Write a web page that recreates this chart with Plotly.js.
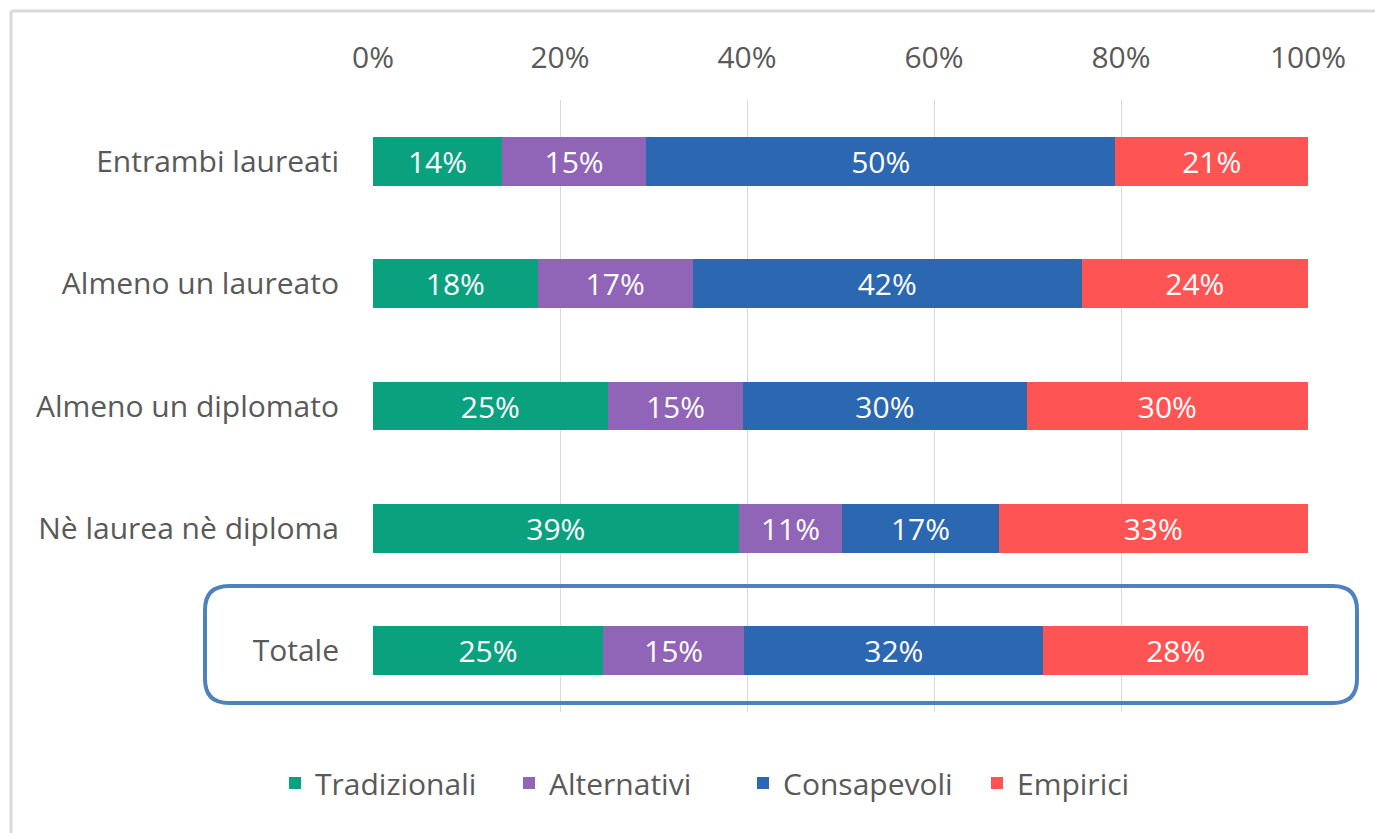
<!DOCTYPE html>
<html>
<head>
<meta charset="utf-8">
<script src="https://cdn.plot.ly/plotly-3.0.1.min.js"></script>
<style>html,body{margin:0;padding:0;background:#fff;}#chart{width:1375px;height:833px;}</style>
</head>
<body>
<div id="chart"></div>
<script>
const categories = ["Entrambi laureati", "Almeno un laureato", "Almeno un diplomato", "Nè laurea nè diploma", "Totale"];
const seriesNames = ["Tradizionali", "Alternativi", "Consapevoli", "Empirici"];
const tradizionali = [13.8, 17.6, 25.1, 39.1, 24.6];
const alternativi  = [15.4, 16.6, 14.5, 11.1, 15.1];
const consapevoli  = [50.2, 41.6, 30.3, 16.7, 32.0];
const empirici     = [20.6, 24.2, 30.1, 33.1, 28.3];
const tickValues = [0, 20, 40, 60, 80, 100];
const tickLabels = ["0%", "20%", "40%", "60%", "80%", "100%"];

const colors = ["#0aa17f", "#9064b7", "#2c67b1", "#ff5454"];
const FONT = "'Open Sans', Lato, sans-serif";
const allSeries = [tradizionali, alternativi, consapevoli, empirici];

const traces = allSeries.map((vals, i) => ({
  type: "bar",
  orientation: "h",
  name: seriesNames[i],
  y: categories,
  x: vals,
  marker: {color: colors[i]},
  texttemplate: "%{x:.0f}%",
  textposition: "inside",
  insidetextanchor: "middle",
  textfont: {color: "#ffffff", size: 30, family: FONT},
  hoverinfo: "skip"
}));

const L = 373, R = 1308, T = 100, B = 712;
const pw = R - L, ph = B - T;
const px = x => (x - L) / pw;
const py = y => (B - y) / ph;

// rounded rectangle around "Totale"
const rx0 = 205, rx1 = 1357, ry0 = 586, ry1 = 703, rr = 24;
const roundPath =
  `M ${px(rx0 + rr)} ${py(ry0)} L ${px(rx1 - rr)} ${py(ry0)} Q ${px(rx1)} ${py(ry0)} ${px(rx1)} ${py(ry0 + rr)} ` +
  `L ${px(rx1)} ${py(ry1 - rr)} Q ${px(rx1)} ${py(ry1)} ${px(rx1 - rr)} ${py(ry1)} ` +
  `L ${px(rx0 + rr)} ${py(ry1)} Q ${px(rx0)} ${py(ry1)} ${px(rx0)} ${py(ry1 - rr)} ` +
  `L ${px(rx0)} ${py(ry0 + rr)} Q ${px(rx0)} ${py(ry0)} ${px(rx0 + rr)} ${py(ry0)} Z`;

const layout = {
  width: 1375, height: 833,
  margin: {l: L, r: 1375 - R, t: T, b: 833 - B},
  paper_bgcolor: "#ffffff", plot_bgcolor: "#ffffff",
  barmode: "stack",
  bargap: 0.6,
  font: {family: FONT, color: "#595959"},
  xaxis: {
    side: "top",
    range: [0, 100],
    tickvals: tickValues,
    ticktext: tickLabels,
    showgrid: true, gridcolor: "#d9d9d9", gridwidth: 1,
    zeroline: false, showline: false,
    ticks: "",
    ticklabelstandoff: 25,
    tickfont: {size: 30, color: "#595959", family: FONT},
    fixedrange: true
  },
  yaxis: {
    autorange: "reversed",
    showgrid: false, zeroline: false, showline: false,
    ticks: "",
    ticklabelstandoff: 33,
    tickfont: {size: 30, color: "#595959", family: FONT},
    fixedrange: true
  },
  showlegend: true,
  legend: {
    orientation: "h",
    xref: "container", yref: "container",
    x: 275 / 1375, y: 1 - 783 / 833,
    xanchor: "left", yanchor: "middle",
    font: {size: 30, color: "#595959", family: FONT},
    itemwidth: 30,
    entrywidth: 189,
    traceorder: "normal"
  },
  shapes: [
    {type: "path", xref: "paper", yref: "paper", path: roundPath,
     line: {color: "#4f81bd", width: 4}, fillcolor: "rgba(0,0,0,0)"},
    {type: "line", xref: "paper", yref: "paper", x0: px(11), x1: px(11), y0: py(833), y1: py(11),
     line: {color: "#d9d9d9", width: 3}},
    {type: "line", xref: "paper", yref: "paper", x0: px(11), x1: px(1375), y0: py(11), y1: py(11),
     line: {color: "#d9d9d9", width: 3}}
  ]
};

Plotly.newPlot("chart", traces, layout, {displayModeBar: false, staticPlot: true});
</script>
</body>
</html>
